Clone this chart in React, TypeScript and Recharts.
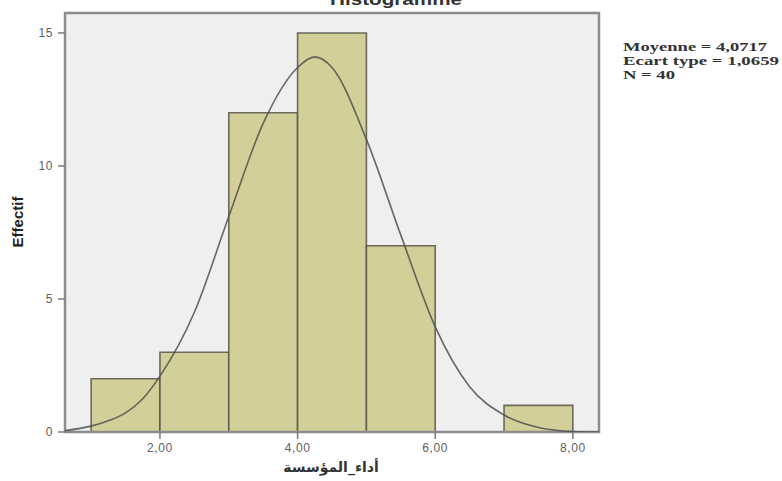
import React from "react";
import { ComposedChart, Line, XAxis, YAxis, ReferenceArea, CartesianGrid } from "recharts";

const binStarts = [1, 2, 3, 4, 5, 6, 7];
const binEnds = [2, 3, 4, 5, 6, 7, 8];
const counts = [2, 3, 12, 15, 7, 0, 1];

const curveX = [0.62, 1.0, 1.25, 1.5, 1.75, 2.0, 2.5, 3.0, 3.5, 4.0, 4.25, 4.5, 5.0, 5.5, 6.0, 6.5, 7.0, 7.5, 8.0, 8.38];
const curveY = [0.05, 0.22, 0.42, 0.72, 1.25, 2.1, 4.5, 8.1, 11.6, 13.7, 14.1, 13.7, 11.0, 7.4, 3.95, 1.7, 0.64, 0.17, 0.02, 0.0];

const xTicks = [2, 4, 6, 8];
const yTicks = [0, 5, 10, 15];
const xDomain: [number, number] = [0.62, 8.38];
const yDomain: [number, number] = [0, 15.75];

const titleText = "Histogramme";
const xTitle = "أداء_المؤسسة";
const yTitle = "Effectif";
const statLines = ["Moyenne = 4,0717", "Ecart type = 1,0659", "N = 40"];

const curveData = curveX.map((x, i) => ({ x, y: curveY[i] }));
const bins = binStarts
  .map((s, i) => ({ s, e: binEnds[i], c: counts[i] }))
  .filter((b) => b.c > 0);

const fmt = (v: number) => v.toFixed(2).replace(".", ",");

export default function App() {
  return (
    <div style={{ position: "absolute", left: 0, top: 0, width: 782, height: 481, background: "#fff" }}>
      <ComposedChart
        width={782}
        height={481}
        data={curveData}
        margin={{ top: 13, right: 183, bottom: 0, left: 5 }}
      >
        <CartesianGrid fill="#efefef" horizontal={false} vertical={false} stroke="none" />
        <XAxis
          dataKey="x"
          type="number"
          domain={xDomain}
          ticks={xTicks}
          tickFormatter={fmt}
          allowDataOverflow
          height={49}
          axisLine={false}
          tickLine={{ stroke: "#7a7a7a", strokeWidth: 1.5 }}
          tickSize={7}
          tickMargin={4}
          tick={{ fill: "#606060", fontSize: 12, fontFamily: "Liberation Sans, Arial, sans-serif", letterSpacing: 0.6 }}
        />
        <YAxis
          type="number"
          domain={yDomain}
          ticks={yTicks}
          allowDataOverflow
          width={60}
          axisLine={false}
          tickLine={{ stroke: "#7a7a7a", strokeWidth: 1.5 }}
          tickSize={7}
          tickMargin={5}
          tick={{ fill: "#606060", fontSize: 12, fontFamily: "Liberation Sans, Arial, sans-serif", letterSpacing: 0.6 }}
        />
        {bins.map((b, i) => (
          <ReferenceArea
            key={i}
            x1={b.s}
            x2={b.e}
            y1={0}
            y2={b.c}
            fill="#d3cf98"
            fillOpacity={1}
            stroke="#55554a"
            strokeOpacity={0.85}
            strokeWidth={1.6}
            ifOverflow="visible"
          />
        ))}
        <Line
          dataKey="y"
          type="monotone"
          stroke="#4f4f4f"
          strokeOpacity={0.85}
          strokeWidth={1.6}
          dot={false}
          activeDot={false}
          isAnimationActive={false}
        />
        <ReferenceArea
          x1={xDomain[0]}
          x2={xDomain[1]}
          y1={yDomain[0]}
          y2={yDomain[1]}
          fill="none"
          stroke="#8c8c8c"
          strokeWidth={2.5}
          ifOverflow="visible"
        />
      </ComposedChart>
      <svg
        width={782}
        height={481}
        style={{ position: "absolute", left: 0, top: 0, pointerEvents: "none" }}
      >
        <text
          x={396}
          y={5}
          textAnchor="middle"
          fontSize={16}
          fontWeight="bold"
          fill="#333"
          fontFamily="Liberation Sans, Arial, sans-serif"
          textLength={132}
          lengthAdjust="spacingAndGlyphs"
        >
          {titleText}
        </text>
        <text
          x={17}
          y={222}
          transform="rotate(-90 17 222)"
          textAnchor="middle"
          dominantBaseline="central"
          fontSize={15}
          fontWeight="bold"
          fill="#222"
          fontFamily="Liberation Sans, Arial, sans-serif"
        >
          {yTitle}
        </text>
        <text
          x={331}
          y={467}
          textAnchor="middle"
          dominantBaseline="central"
          fontSize={14}
          fontWeight="bold"
          fill="#333"
          fontFamily="DejaVu Sans, sans-serif"
        >
          {xTitle}
        </text>
        {statLines.map((t, i) => (
          <text
            key={i}
            x={623}
            y={51 + i * 14}
            fontSize={13}
            fontWeight="bold"
            fill="#333"
            fontFamily="Liberation Serif, Times New Roman, serif"
            textLength={[144, 156, 52][i]}
            lengthAdjust="spacingAndGlyphs"
          >
            {t}
          </text>
        ))}
      </svg>
    </div>
  );
}
